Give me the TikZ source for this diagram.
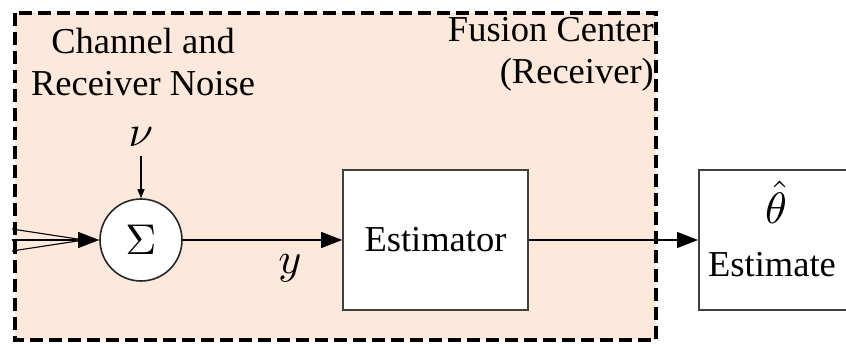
\documentclass[tikz,border=0pt]{standalone}
\usepackage{graphicx}
\usepackage{fontspec}
\setmainfont{Liberation Serif}
\usetikzlibrary{arrows.meta}
\definecolor{peach}{HTML}{FDE9DB}
\definecolor{boxline}{HTML}{404040}
\newcommand{\bigmath}[2]{\scalebox{#1}{$#2$}}
\begin{document}
\begin{tikzpicture}[x=1pt,y=-1pt,
  lbl/.style={font=\fontsize{36.5}{42}\selectfont, align=center, inner sep=0pt},
  blk/.style={draw=boxline, line width=1.6pt, fill=white},
  sig/.style={line width=1.1pt, draw=black},
  bigtip/.style={-{Triangle[length=21pt,width=16pt]}},
  smalltip/.style={-{Triangle[length=9pt,width=7pt]}}]
\useasboundingbox (0,0) rectangle (846,344);
% fusion center region
\draw[fill=peach, line width=3.2pt, dash pattern=on 13pt off 6pt] (15,13) rectangle (656,340);
\node[lbl, anchor=north] (cn) at (143,28) {Channel and\\Receiver Noise};
\node[lbl, anchor=north east, align=right] (fc) at (654,17) {Fusion Center\\(Receiver)};
% blocks
\node[draw=black!85, line width=1.6pt, fill=white, circle, minimum size=82pt, inner sep=0pt] (sum) at (141,240) {\bigmath{4.3}{\Sigma}};
\node[blk, minimum width=185pt, minimum height=140pt, font=\fontsize{36.5}{42}\selectfont] (est) at (435.5,240) {Estimator};
\node[blk, minimum width=160pt, minimum height=140pt, anchor=west, inner sep=0pt] (out) at (698,240) {};
\node[inner sep=0pt] (th) at (776,202) {\bigmath{4.4}{\hat{\theta}}};
\node[font=\fontsize{36.5}{42}\selectfont, inner sep=0pt, anchor=base, text height=0.7em, text depth=0pt] (estl) at (772,277) {Estimate};
% noise
\node[inner sep=0pt] (nu) at (141,137) {\bigmath{4.4}{\nu}};
\coordinate (nus) at (141,156);
\draw[sig, smalltip] (nus) -- (sum.north);
% inputs
\coordinate (i1) at (12,229);
\coordinate (i2) at (12,240);
\coordinate (i3) at (12,251);
\coordinate (m) at (84,240);
\draw[sig] (i1) -- (m);
\draw[sig] (i3) -- (m);
\draw[sig, bigtip] (i2) -- (sum.west);
% outputs
\draw[sig, bigtip] (sum.east) -- (est.west);
\node[inner sep=0pt] (y) at (290,268) {\bigmath{4.4}{y}};
\draw[sig, bigtip] (est.east) -- (out.west);
\end{tikzpicture}
\end{document}
